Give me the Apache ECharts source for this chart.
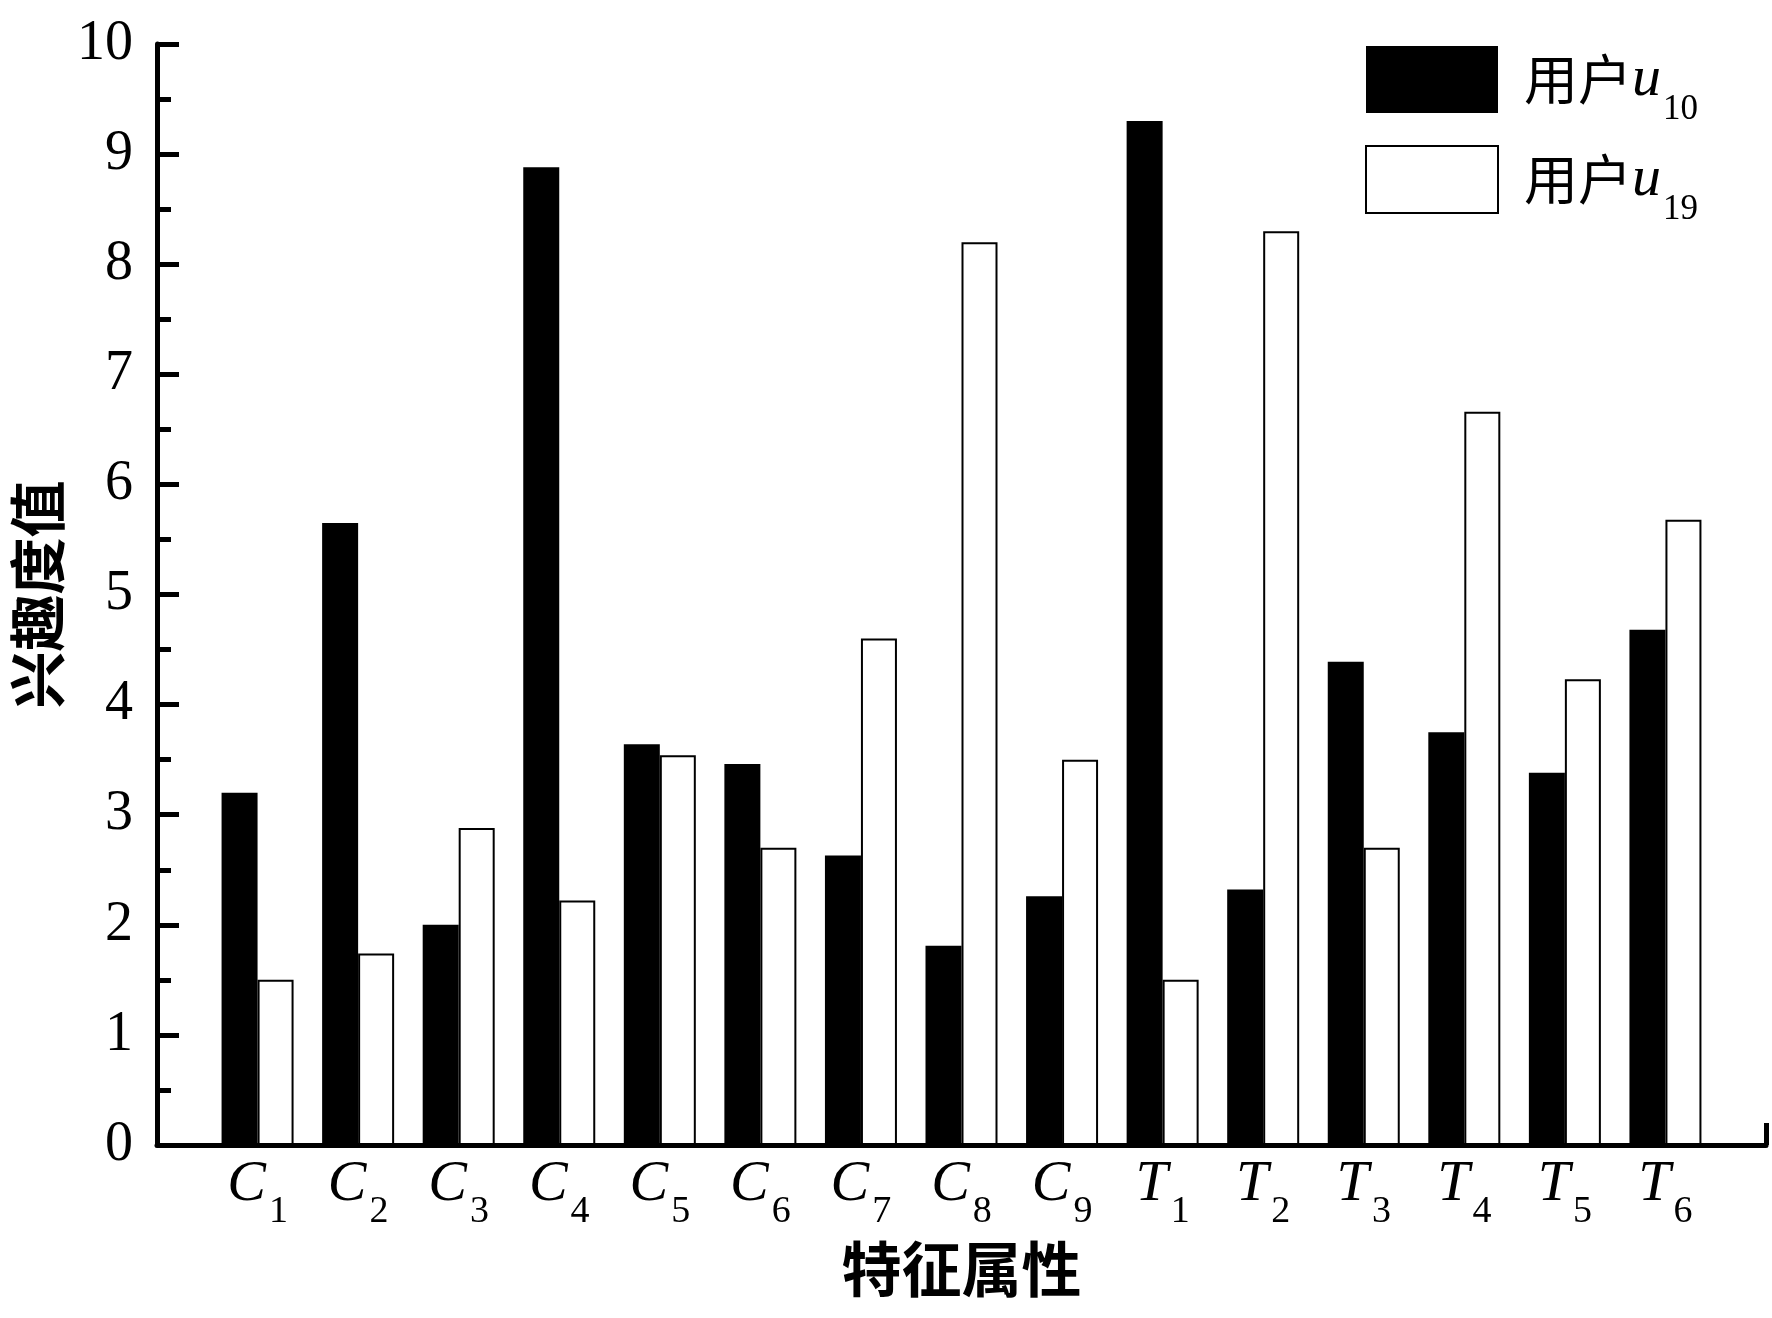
<!DOCTYPE html>
<html>
<head>
<meta charset="utf-8">
<style>html,body{margin:0;padding:0;background:#fff;}#c{width:1772px;height:1318px;}</style>
<script src="https://cdn.jsdelivr.net/npm/echarts@6/dist/echarts.min.js"></script>
</head>
<body>
<div id="c"></div>
<script>
// category labels (empty ends so the axis runs from 0 to 16)
const categories = ['', 'C1', 'C2', 'C3', 'C4', 'C5', 'C6', 'C7', 'C8', 'C9', 'T1', 'T2', 'T3', 'T4', 'T5', 'T6', ''];
const seriesNames = ['用户u10', '用户u19'];
const user10 = [null, 3.20, 5.65, 2.00, 8.88, 3.64, 3.46, 2.63, 1.81, 2.26, 9.30, 2.32, 4.39, 3.75, 3.38, 4.68, null];
const user19 = [null, 1.50, 1.74, 2.88, 2.22, 3.54, 2.70, 4.60, 8.20, 3.50, 1.50, 8.30, 2.70, 6.66, 4.23, 5.68, null];
const yTicks = [0, 1, 2, 3, 4, 5, 6, 7, 8, 9, 10];

const serif = '"Liberation Serif", "Times New Roman", Times, serif';
const cjk = '"Noto Sans CJK SC", sans-serif';

const chart = echarts.init(document.getElementById('c'), null, {renderer: 'canvas'});
chart.setOption({
  backgroundColor: '#fff',
  animation: false,
  grid: {left: 157, right: 6, top: 44, bottom: 173, containLabel: false},
  legend: {
    orient: 'vertical',
    left: 1365,
    top: 32,
    padding: 0,
    itemWidth: 132,
    itemHeight: 67,
    itemGap: 5,
    icon: 'rect',
    data: seriesNames,
    formatter: function (name) {
      const sub = name.slice(3);
      return '{c|用户}{i|u}{s|' + sub + '}';
    },
    textStyle: {
      padding: [0, 0, 0, 21],
      rich: {
        c: {fontFamily: cjk, fontSize: 54, color: '#000', lineHeight: 40},
        i: {fontFamily: serif, fontStyle: 'italic', fontSize: 58, color: '#000', lineHeight: 40},
        s: {fontFamily: serif, fontSize: 35, color: '#000', padding: [60, 0, 0, 2], lineHeight: 20}
      }
    }
  },
  xAxis: {
    type: 'category',
    data: categories,
    boundaryGap: false,
    name: '特征属性',
    nameLocation: 'middle',
    nameGap: 94,
    nameTextStyle: {fontFamily: cjk, fontWeight: 'bold', fontSize: 60, color: '#000'},
    axisLine: {lineStyle: {color: '#000', width: 5}},
    axisTick: {
      show: true, inside: true, length: 22,
      interval: function (index) { return index === categories.length - 1; },
      lineStyle: {color: '#000', width: 5}
    },
    axisLabel: {
      interval: 0,
      margin: 8,
      formatter: function (v) {
        if (!v) return '';
        return '{i|' + v[0] + '}{s|' + v.slice(1) + '}';
      },
      rich: {
        i: {fontFamily: serif, fontStyle: 'italic', fontSize: 58, color: '#000', lineHeight: 64},
        s: {fontFamily: serif, fontSize: 38, color: '#000', padding: [54, 0, 0, 3], lineHeight: 64}
      }
    },
    splitLine: {show: false}
  },
  yAxis: {
    type: 'value',
    min: yTicks[0],
    max: yTicks[yTicks.length - 1],
    interval: 1,
    name: '兴趣度值',
    nameLocation: 'middle',
    nameGap: 86,
    nameRotate: 90,
    nameTextStyle: {fontFamily: cjk, fontWeight: 'bold', fontSize: 57, color: '#000'},
    axisLine: {show: true, lineStyle: {color: '#000', width: 5}},
    axisTick: {show: true, inside: true, length: 22, lineStyle: {color: '#000', width: 5}},
    minorTick: {show: true, splitNumber: 2, length: 14, lineStyle: {color: '#000', width: 5}},
    axisLabel: {fontFamily: serif, fontSize: 56, color: '#000', margin: 24},
    splitLine: {show: false}
  },
  series: [
    {
      name: seriesNames[0],
      type: 'bar',
      data: user10,
      barWidth: 36,
      barGap: '0%',
      itemStyle: {color: '#000', borderColor: '#000', borderWidth: 0}
    },
    {
      name: seriesNames[1],
      type: 'bar',
      data: user19,
      barWidth: 36,
      barGap: '0%',
      itemStyle: {color: '#fff', borderColor: '#000', borderWidth: 2}
    }
  ]
});
</script>
</body>
</html>
